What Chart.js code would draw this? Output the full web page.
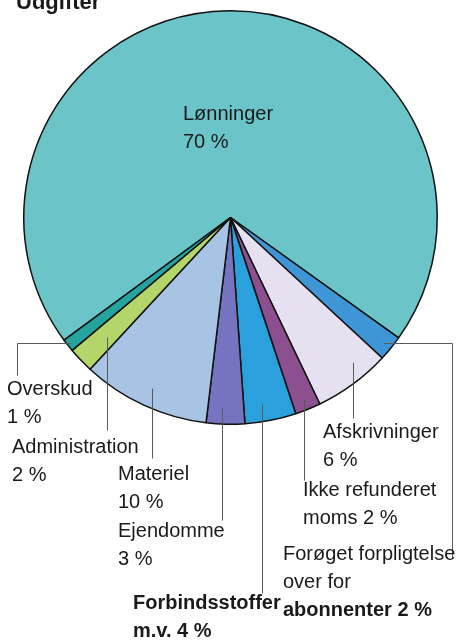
<!DOCTYPE html>
<html>
<head>
<meta charset="utf-8">
<script src="https://cdn.jsdelivr.net/npm/chart.js@4"></script>
<style>
  body{margin:0;background:#fff;}
  #wrap{position:relative;width:461px;height:640px;overflow:hidden;
    font-family:"Liberation Sans",Arial,sans-serif;color:#1a1a1a;}
  canvas{position:absolute;left:0;top:0;}
  .lbl{position:absolute;font-size:20px;line-height:20px;white-space:nowrap;}
  .b{font-weight:bold;}
  #title{position:absolute;left:16px;top:-9px;font-size:22px;font-weight:bold;line-height:22px;}
</style>
</head>
<body>
<div id="wrap">
  <canvas id="pie" width="461" height="640"></canvas>
  <div id="title">Udgifter</div>
</div>
<script>
// data
const categories = [
  "Lønninger",
  "Forøget forpligtelse over for abonnenter",
  "Afskrivninger",
  "Ikke refunderet moms",
  "Forbindsstoffer m.v.",
  "Ejendomme",
  "Materiel",
  "Administration",
  "Overskud"];

const shares = [70, 2, 6, 2, 4, 3, 10, 2, 1];

const sliceColours = [
  "#6bc4c8",
  "#3f96d6",
  "#e6e1f0",
  "#8c4f8f",
  "#2aa0dc",
  "#7674c0",
  "#a8c4e4",
  "#b3d56a",
  "#25a39f"];

// label text (first line, then second line ending in the share)
// x,y = left edge and baseline of first line
const labelSpots = [
  {first:"Lønninger", pre:"", x:183, y:120, bold:false},
  {first:"Forøget forpligtelse", mid:"over for", pre:"abonnenter ", x:283, y:560, bold:false, boldLast:true},
  {first:"Afskrivninger", pre:"", x:323, y:438, bold:false},
  {first:"Ikke refunderet", pre:"moms ", x:303, y:496, bold:false},
  {first:"Forbindsstoffer", pre:"m.v. ", x:133, y:609, bold:true},
  {first:"Ejendomme", pre:"", x:118, y:537, bold:false},
  {first:"Materiel", pre:"", x:118, y:480, bold:false},
  {first:"Administration", pre:"", x:12, y:453, bold:false},
  {first:"Overskud", pre:"", x:7, y:395, bold:false}];

// leader lines, polyline points
const leaders = [
  null,
  [[383,343],[452,343],[452,557]],
  [[353,362],[353,418]],
  [[304,399],[304,480]],
  [[262,403],[262,593]],
  [[222,408],[222,520]],
  [[152,388],[152,458]],
  [[107,337],[107,430]],
  [[70,343],[17,343],[17,375]]];

const wrap = document.getElementById("wrap");
const lineGap = 28;

function addLabel(text, x, baseline, bold){
  let d = document.createElement("div");
  d.className = "lbl" + (bold ? " b" : "");
  d.textContent = text;
  d.style.left = x + "px";
  d.style.top = (baseline - 17) + "px";
  wrap.appendChild(d);
}

labelSpots.forEach(function(s, i){
  let y = s.y;
  addLabel(s.first, s.x, y, s.bold);
  if(s.mid){
    y += lineGap;
    addLabel(s.mid, s.x, y, s.bold);
  }
  y += lineGap;
  addLabel(s.pre + shares[i] + " %", s.x, y, s.bold || s.boldLast);
});

// leader lines plugin
const leaderPlugin = {
  id:"leaders",
  afterDatasetsDraw(chart){
    const ctx = chart.ctx;
    ctx.save();
    ctx.strokeStyle = "#5a5a5a";
    ctx.lineWidth = 1;
    leaders.forEach(function(pts){
      if(!pts) return;
      ctx.beginPath();
      pts.forEach(function(p, k){
        if(k === 0) ctx.moveTo(p[0] + 0.5, p[1] + 0.5);
        else ctx.lineTo(p[0] + 0.5, p[1] + 0.5);
      });
      ctx.stroke();
    });
    ctx.restore();
  }
};

new Chart(document.getElementById("pie"), {
  type:"pie",
  data:{
    labels:categories,
    datasets:[{
      data:shares,
      backgroundColor:sliceColours,
      borderColor:"#111",
      borderWidth:1.5
    }]
  },
  options:{
    responsive:false,
    animation:false,
    rotation:233.6,
    layout:{padding:{left:23, right:23, top:10, bottom:215}},
    plugins:{
      legend:{display:false},
      tooltip:{enabled:false}
    }
  },
  plugins:[leaderPlugin]
});
</script>
</body>
</html>
